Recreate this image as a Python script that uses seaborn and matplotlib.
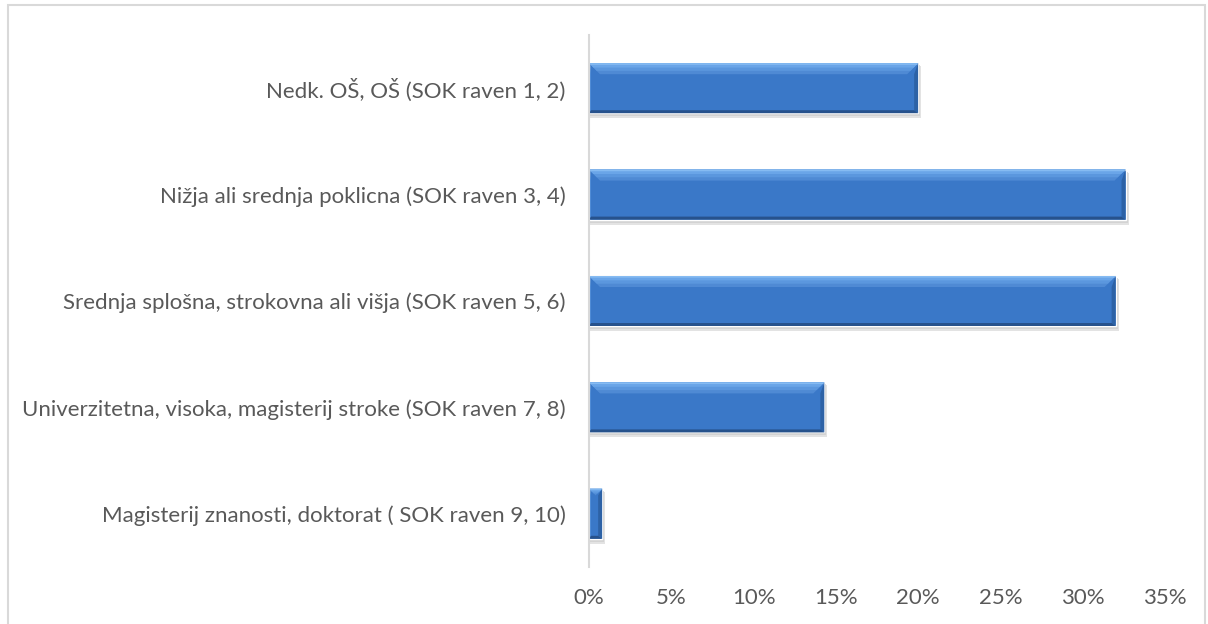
import matplotlib
matplotlib.use("Agg")
import matplotlib.pyplot as plt
import seaborn as sns
import pandas as pd
from matplotlib.patches import Polygon, Rectangle
from matplotlib.ticker import PercentFormatter

# data
categories = [
    "Nedk. OŠ, OŠ (SOK raven 1, 2)",
    "Nižja ali srednja poklicna (SOK raven 3, 4)",
    "Srednja splošna, strokovna ali višja (SOK raven 5, 6)",
    "Univerzitetna, visoka, magisterij stroke (SOK raven 7, 8)",
    "Magisterij znanosti, doktorat ( SOK raven 9, 10)",
]
shares = [0.200, 0.326, 0.320, 0.143, 0.008]
x_ticks = [0, 0.05, 0.10, 0.15, 0.20, 0.25, 0.30, 0.35]

df = pd.DataFrame({"category": categories, "share": shares})

sns.set_theme(style="white")
plt.rcParams["font.family"] = ["Lato", "DejaVu Sans"]

fig = plt.figure(figsize=(12.08, 6.24), dpi=100)
ax = fig.add_axes([589 / 1208, 1 - 567 / 624, 576 / 1208, 532 / 624])

sns.barplot(data=df, x="share", y="category", color="#3a78c8",
            width=0.47, ax=ax, zorder=3, saturation=1)

ax.set_xlim(0, 0.35)
ax.set_ylim(len(categories) - 0.5, -0.5)
ax.set_xticks(x_ticks)
ax.xaxis.set_major_formatter(PercentFormatter(1.0, decimals=0))
ax.set_xlabel("")
ax.set_ylabel("")
ax.tick_params(axis="both", length=0, labelsize=16, labelcolor="#595959")
ax.tick_params(axis="y", pad=17)
ax.tick_params(axis="x", pad=15)
for side in ["top", "right", "bottom"]:
    ax.spines[side].set_visible(False)
ax.spines["left"].set_color("#d9d9d9")
ax.spines["left"].set_linewidth(1.5)
ax.spines["left"].set_zorder(5)

# bevel look, built from the bar patches themselves
inv = ax.transData.inverted()


def to_data(pts):
    return inv.transform(pts)


def quad(pts, color, z=4, alpha=1.0):
    ax.add_patch(Polygon(to_data(pts), closed=True, color=color,
                         alpha=alpha, zorder=z, lw=0))


for p in list(ax.patches):
    x0, y0 = p.get_x(), p.get_y()
    (X0, Y0), (X1, Y1) = ax.transData.transform(
        [(x0, y0), (x0 + p.get_width(), y0 + p.get_height())])
    L, R = min(X0, X1), max(X0, X1)
    B, T = min(Y0, Y1), max(Y0, Y1)
    b = min(11, (R - L) / 2)
    # soft shadow
    quad([(L + 1, B - 5), (R + 3, B - 5), (R + 3, T - 3), (L + 1, T - 3)], "#dcdcdc", z=2, alpha=0.8)
    quad([(L + 1, B - 3), (R + 2, B - 3), (R + 2, T - 2), (L + 1, T - 2)], "#cfcfcf", z=2, alpha=0.8)
    # top bevel, stepped to fake a gradient
    steps = [("#4f8ad4", 1.0), ("#5b97de", 0.7), ("#6aa5e8", 0.4), ("#86bbf2", 0.15)]
    for col, f in steps:
        quad([(L, T), (R, T), (R - b * f, T - b * f), (L + b * f, T - b * f)], col)
    # right edge (dark)
    quad([(R, T), (R, B), (R - 4, B + 3), (R - 4, T - b)], "#2d62a6")
    # bottom edge (dark)
    quad([(L, B), (R, B), (R - 4, B + 3), (L, B + 3)], "#27528c")
    # left edge
    quad([(L, T), (L + 2, T - b), (L + 2, B + 3), (L, B)], "#4a89d6")

# outer chart border
fig.patches.append(Rectangle((8 / 1208, -0.01), 1197 / 1208, 1.01 - 5 / 624,
                             transform=fig.transFigure, fill=False,
                             edgecolor="#d9d9d9", linewidth=1.5))

fig.savefig("out.png", dpi=100)
